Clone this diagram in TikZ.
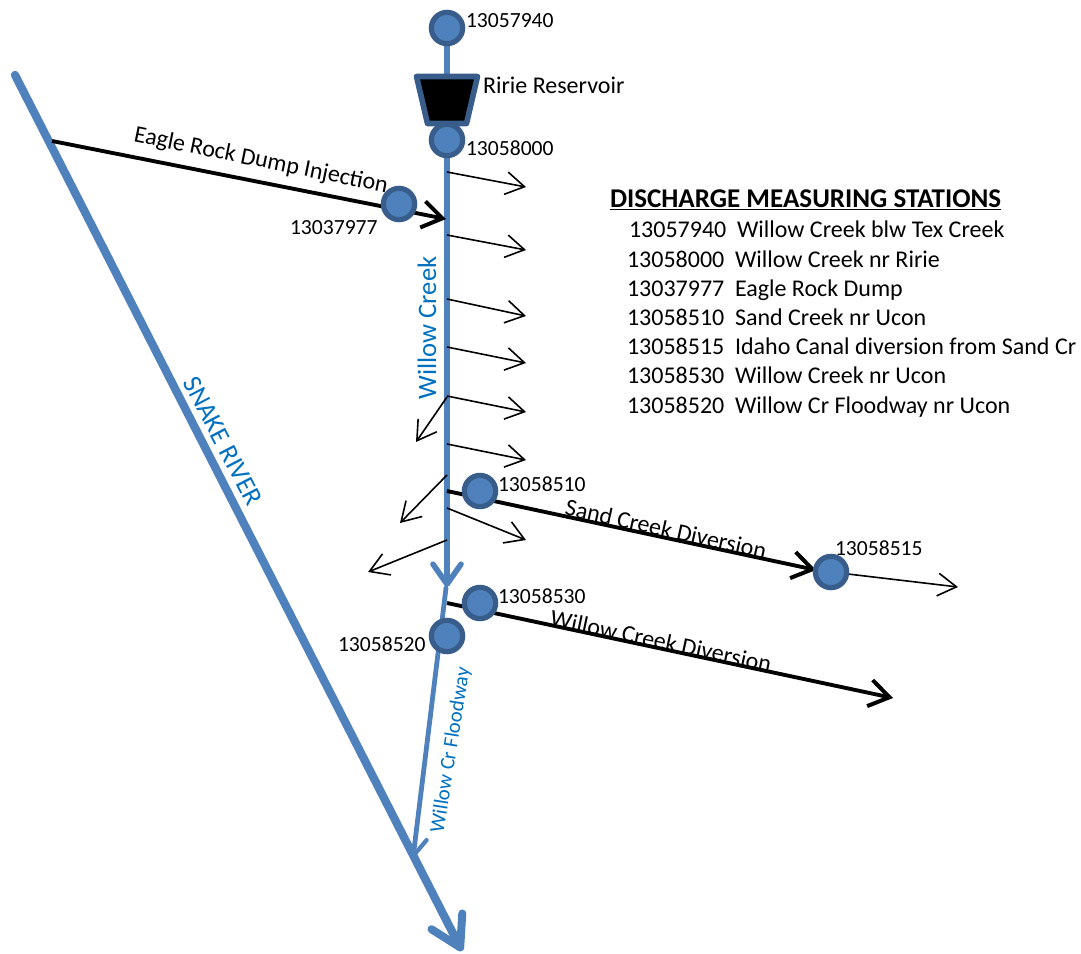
\documentclass[tikz,border=0pt]{standalone}
\usepackage{fontspec}
\setmainfont{Carlito}
\usetikzlibrary{arrows.meta}
\definecolor{riverblue}{HTML}{4F81BD}
\definecolor{edgeblue}{HTML}{385D8A}
\definecolor{labelblue}{HTML}{0070C0}
\tikzset{
  x=0.75pt,y=-0.75pt,
  every node/.style={inner sep=0pt,outer sep=0pt},
  station/.style={circle,draw=edgeblue,fill=riverblue,line width=3.9pt,minimum size=23.5pt},
  idlabel/.style={font=\fontsize{16.2pt}{18pt}\selectfont,anchor=base west},
  bigtext/.style={font=\fontsize{18pt}{20pt}\selectfont,anchor=base west},
  rotlabel/.style={font=\fontsize{18pt}{20pt}\selectfont},
  bluelabel/.style={font=\fontsize{20pt}{22pt}\selectfont,text=labelblue},
  thinflow/.style={draw=black,line width=1.2pt,-{Straight Barb[length=14pt,width=17pt,line width=1.2pt]}},
  thickflow/.style={draw=black,line width=2.9pt},
  thicktip/.style={thickflow,-{Straight Barb[length=15pt,width=20pt,line width=3pt]}},
  river/.style={draw=riverblue,line cap=round},
}
\begin{document}
\begin{tikzpicture}
\useasboundingbox (0,0) rectangle (1081,953);
% station centres
\coordinate (c940) at (447,28);
\coordinate (c000) at (447,140);
\coordinate (c977) at (399,204);
\coordinate (c510) at (480,491);
\coordinate (c515) at (831,572);
\coordinate (c530) at (480,603);
\coordinate (c520) at (447,636);
% free ends
\coordinate (snakeS) at (15,75);
\coordinate (snakeE) at (462,951);
\coordinate (eagleS) at (52,141);
\coordinate (eagleE) at (446,219);
\coordinate (creekE) at (447,587);
\coordinate (floodS) at (446,588);
\coordinate (floodE) at (413,858);
\coordinate (sandS) at (447,491);
\coordinate (sandE) at (816,570);
\coordinate (wcdS) at (447,603);
\coordinate (wcdE) at (893,698);
\coordinate (out15) at (958,587);
\foreach \n/\ya/\xb/\yb in {a/172/526/187,b/235/526/250,c/299/526/316,d/347/526/363,e/396/526/412,f/444/526/460,g/508/526/540,h/397/416/442,i/475/400/523,j/540/368/572}{
  \coordinate (tap\n) at (447,\ya);
  \coordinate (end\n) at (\xb,\yb);
}
% rivers
\draw[river,line width=6.2pt,-{Straight Barb[length=22pt,width=26pt,line width=6pt,round]}] (snakeS) -- (snakeE);
\draw[river,line width=3.6pt,-{Straight Barb[length=13pt,width=17pt,line width=3.2pt,round]}] (floodS) -- (floodE);
\draw[river,line width=4.4pt,-{Straight Barb[length=15pt,width=21pt,line width=4.2pt,round]}] (c940) -- (creekE);
% thin flows
\foreach \n in {a,b,c,d,e,f,g,h,i,j}{\draw[thinflow] (tap\n) -- (end\n);}
\draw[thinflow] (c515) -- (out15);
% thick flows
\draw[thicktip] (eagleS) -- (eagleE);
\draw[thicktip] (sandS) -- (sandE);
\draw[thicktip] (wcdS) -- (wcdE);
% reservoir
\draw[draw=edgeblue,fill=black,line width=4.2pt,line join=round] (416.5,76.5) -- (477.5,76.5) -- (466.5,123.5) -- (427.5,123.5) -- cycle;
% stations
\node[station] (s940) at (c940) {};
\node[station] (s000) at (c000) {};
\node[station] (s977) at (c977) {};
\node[station] (s510) at (c510) {};
\node[station] (s515) at (c515) {};
\node[station] (s530) at (c530) {};
\node[station] (s520) at (c520) {};
% station labels
\node[idlabel] (l940) at (466,27) {13057940};
\node[idlabel] (l000) at (466,155) {13058000};
\node[idlabel] (l977) at (290,234) {13037977};
\node[idlabel] (l510) at (498,491) {13058510};
\node[idlabel] (l515) at (835,555) {13058515};
\node[idlabel] (l530) at (498,603) {13058530};
\node[idlabel] (l520) at (338,651) {13058520};
\node[bigtext] (lres) at (483,93) {Ririe Reservoir};
% path labels
\node[rotlabel,rotate=-11.5] (leagle) at (261,161) {Eagle Rock Dump Injection};
\node[rotlabel,rotate=-12.5] (lsand) at (666,529) {Sand Creek Diversion};
\node[rotlabel,rotate=-12] (lwcd) at (661,641) {Willow Creek Diversion};
\node[bluelabel,rotate=90] (lcreek) at (427,328) {Willow Creek};
\node[bluelabel,rotate=-62.5] (lsnake) at (223,441) {SNAKE RIVER};
\node[font=\fontsize{15.6pt}{18pt}\selectfont,text=labelblue,rotate=81] (lflood) at (451,750) {Willow Cr Floodway};
% table
\node[font=\fontsize{20.3pt}{22pt}\selectfont\bfseries,anchor=base west] (title) at (610,207) {\underline{DISCHARGE MEASURING STATIONS}};
\node[bigtext] (n1) at (629,237) {13057940};
\node[bigtext] (d1) at (737,237) {Willow Creek blw Tex Creek};
\node[bigtext] (n2) at (627,267) {13058000};
\node[bigtext] (d2) at (735,267) {Willow Creek nr Ririe};
\node[bigtext] (n3) at (627,296) {13037977};
\node[bigtext] (d3) at (735,296) {Eagle Rock Dump};
\node[bigtext] (n4) at (627,325) {13058510};
\node[bigtext] (d4) at (735,325) {Sand Creek nr Ucon};
\node[bigtext] (n5) at (627,354) {13058515};
\node[bigtext] (d5) at (735,354) {Idaho Canal diversion from Sand Cr};
\node[bigtext] (n6) at (627,383) {13058530};
\node[bigtext] (d6) at (735,383) {Willow Creek nr Ucon};
\node[bigtext] (n7) at (627,413) {13058520};
\node[bigtext] (d7) at (735,413) {Willow Cr Floodway nr Ucon};
\end{tikzpicture}
\end{document}
